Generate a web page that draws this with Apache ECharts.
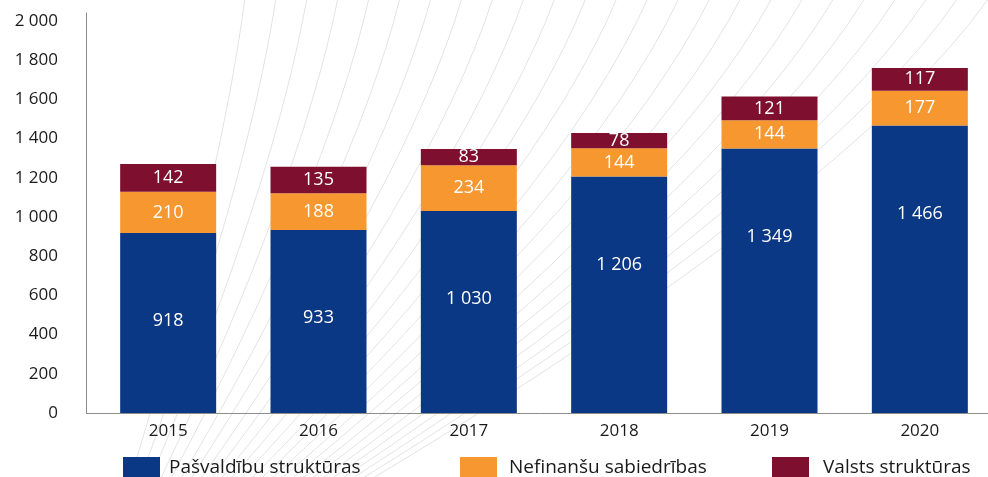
<!DOCTYPE html>
<html>
<head>
<meta charset="utf-8">
<script src="https://cdn.jsdelivr.net/npm/echarts@6/dist/echarts.min.js"></script>
<style>
  html, body { margin: 0; padding: 0; background: #fff; }
  #chart { width: 988px; height: 477px; }
</style>
</head>
<body>
<div id="chart"></div>
<script>
  var years = ['2015', '2016', '2017', '2018', '2019', '2020'];
  var pasvaldibu = [918, 933, 1030, 1206, 1349, 1466];
  var nefinansu = [210, 188, 234, 144, 144, 177];
  var valsts = [142, 135, 83, 78, 121, 117];
  var seriesNames = ['Pašvaldību struktūras', 'Nefinanšu sabiedrības', 'Valsts struktūras'];
  var colors = ['#0b3885', '#f6972f', '#7e0f2e'];

  var FONT = '"Open Sans", "Noto Sans", sans-serif';

  function fmt(v) {
    return String(v).replace(/\B(?=(\d{3})+(?!\d))/g, ' ');
  }

  // decorative background curves
  var decor = [];
  for (var i = 0; i < 25; i++) {
    var xt = 245 + 31 * i;
    var xb = 130 + 10 * i;
    decor.push({
      type: 'bezierCurve',
      silent: true,
      z: -10,
      shape: {
        x1: xt, y1: -2,
        x2: xb, y2: 480,
        cpx1: xt - 0.22 * (xt - xb), cpy1: 190
      },
      style: { stroke: '#dcdcdc', lineWidth: 0.8, fill: null }
    });
  }
  // x axis line continues left to meet the y axis
  decor.push({
    type: 'line',
    silent: true,
    z: 10,
    shape: { x1: 86, y1: 413.5, x2: 94, y2: 413.5 },
    style: { stroke: '#8c8c8c', lineWidth: 1 }
  });

  var chart = echarts.init(document.getElementById('chart'));

  function makeSeries(name, data, color, labelPos) {
    var label = {
      show: true,
      position: labelPos || 'inside',
      color: '#fff',
      fontFamily: FONT,
      fontSize: 18,
      formatter: function (p) { return fmt(p.value); }
    };
    if (labelPos === 'insideTop') label.distance = 79;
    return {
      name: name,
      type: 'bar',
      stack: 'total',
      barWidth: 96,
      data: data,
      itemStyle: { color: color },
      label: label
    };
  }

  function legendAt(name, left, gap) {
    return {
      data: [name],
      left: left,
      top: 457,
      padding: 0,
      itemWidth: 37,
      itemHeight: 21,
      icon: 'rect',
      textStyle: { fontFamily: FONT, fontSize: 19, color: '#1a1a1a', padding: [0, 0, 0, gap] }
    };
  }

  chart.setOption({
    animation: false,
    backgroundColor: '#fff',
    graphic: { elements: decor },
    grid: { left: 93, width: 902, top: 13, bottom: 64, outerBoundsMode: 'none', containLabel: false },
    legend: [
      legendAt(seriesNames[0], 123, 4),
      legendAt(seriesNames[1], 460, 7),
      legendAt(seriesNames[2], 772, 9)
    ],
    xAxis: {
      type: 'category',
      data: years,
      axisLine: { lineStyle: { color: '#8c8c8c', width: 1 } },
      axisTick: { show: false },
      axisLabel: { color: '#1a1a1a', fontFamily: FONT, fontSize: 17, margin: 10 }
    },
    yAxis: {
      type: 'value',
      min: 0,
      max: 2040,
      interval: 200,
      offset: 7,
      axisLine: { show: true, lineStyle: { color: '#8c8c8c', width: 1 } },
      axisTick: { show: false },
      splitLine: { show: false },
      axisLabel: {
        color: '#1a1a1a',
        fontFamily: FONT,
        fontSize: 17,
        margin: 28,
        formatter: function (v) { return v % 200 === 0 ? fmt(v) : ''; }
      }
    },
    series: [
      makeSeries(seriesNames[0], pasvaldibu, colors[0], 'insideTop'),
      makeSeries(seriesNames[1], nefinansu, colors[1]),
      makeSeries(seriesNames[2], valsts, colors[2])
    ]
  });
</script>
</body>
</html>
